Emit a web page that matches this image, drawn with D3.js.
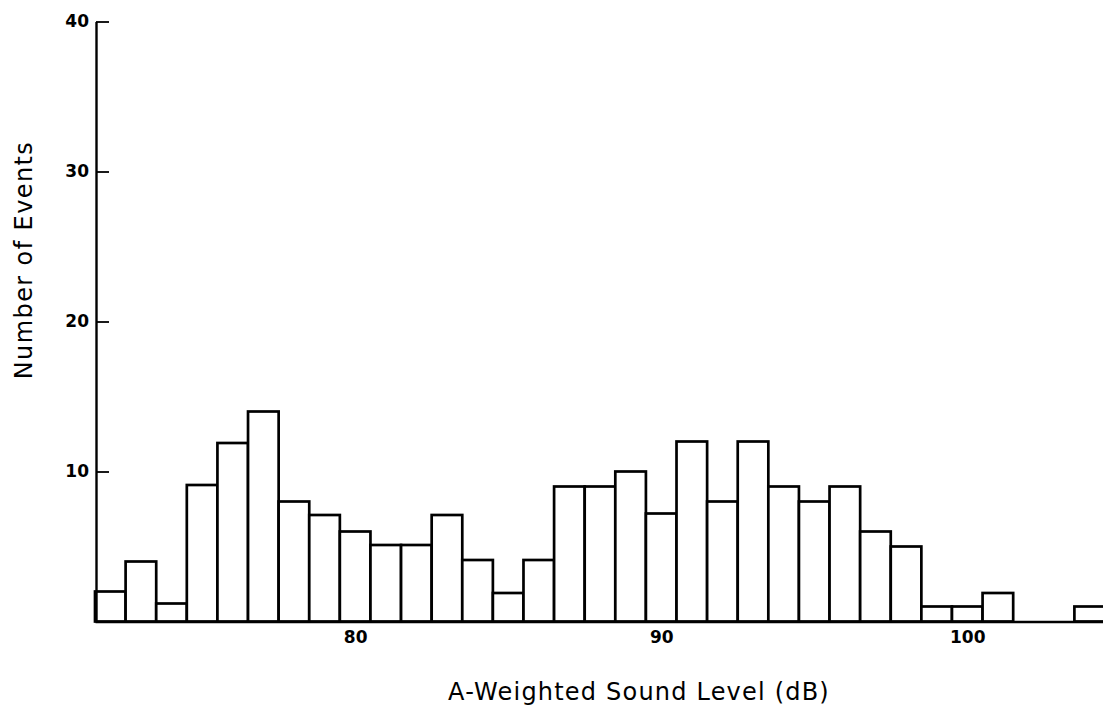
<!DOCTYPE html>
<html>
<head>
<meta charset="utf-8">
<script src="https://cdn.jsdelivr.net/npm/d3@7/dist/d3.min.js"></script>
<style>
  html, body { margin: 0; padding: 0; background: #fff; }
  svg { display: block; }
</style>
</head>
<body>
<svg id="chart" width="1103" height="713"></svg>
<script>
// A-weighted sound level bins (dB, bin centres)
const levels = [72, 73, 74, 75, 76, 77, 78, 79, 80, 81, 82, 83, 84, 85, 86, 87, 88,
                89, 90, 91, 92, 93, 94, 95, 96, 97, 98, 99, 100, 101, 102, 103, 104];
// Number of events per bin
const counts = [2, 4, 1.2, 9.1, 11.9, 14, 8, 7.1, 6, 5.1, 5.1, 7.1, 4.1, 1.9, 4.1, 9, 9,
                10, 7.2, 12, 8, 12, 9, 8, 9, 6, 5, 1, 1, 1.9, 0, 0, 1];
const xTicks = [80, 90, 100];
const yTicks = [10, 20, 30, 40];
const xTitle = "A-Weighted Sound Level (dB)";
const yTitle = "Number of Events";

const svg = d3.select("#chart");

const x = d3.scaleLinear().domain([71.5, 104.5]).range([95, 1105]);
const y = d3.scaleLinear().domain([0, 40]).range([621.5, 21.5]);

const data = levels.map((l, i) => ({ level: l, count: counts[i] }));

// bars
svg.append("g")
  .selectAll("rect")
  .data(data.filter(d => d.count > 0))
  .join("rect")
  .attr("x", d => x(d.level - 0.5))
  .attr("width", d => x(d.level + 0.5) - x(d.level - 0.5))
  .attr("y", d => y(d.count))
  .attr("height", d => y(0) - y(d.count))
  .attr("fill", "#fff")
  .attr("stroke", "#000")
  .attr("stroke-width", 2.7);

// x axis
const xAxis = svg.append("g")
  .attr("transform", `translate(0,${y(0)})`)
  .call(d3.axisBottom(x).tickValues(xTicks).tickSize(0).tickSizeOuter(0).tickPadding(9));
xAxis.attr("font-family", "DejaVu Sans, sans-serif").attr("font-size", 17).attr("font-weight", "bold");
xAxis.selectAll(".tick text").attr("fill", "#000");
xAxis.select(".domain").attr("stroke", "#000").attr("stroke-width", 2.4);

// y axis
const yAxis = svg.append("g")
  .attr("transform", `translate(96,0)`)
  .call(d3.axisLeft(y).tickValues(yTicks).tickSize(-13).tickSizeOuter(0).tickPadding(7));
yAxis.attr("font-family", "DejaVu Sans, sans-serif").attr("font-size", 17).attr("font-weight", "bold");
yAxis.selectAll(".tick text").attr("fill", "#000");
yAxis.select(".domain").attr("stroke", "#000").attr("stroke-width", 2.4);
yAxis.selectAll(".tick line").attr("stroke", "#000").attr("stroke-width", 1.8);

// titles
svg.append("text")
  .attr("x", 639)
  .attr("y", 700)
  .attr("text-anchor", "middle")
  .attr("font-family", "DejaVu Sans, sans-serif")
  .attr("font-size", 24)
  .attr("letter-spacing", 1.2)
  .attr("fill", "#000")
  .text(xTitle);

svg.append("text")
  .attr("transform", "translate(32,260) rotate(-90)")
  .attr("text-anchor", "middle")
  .attr("font-family", "DejaVu Sans, sans-serif")
  .attr("font-size", 24)
  .attr("letter-spacing", 1.4)
  .attr("fill", "#000")
  .text(yTitle);
</script>
</body>
</html>
